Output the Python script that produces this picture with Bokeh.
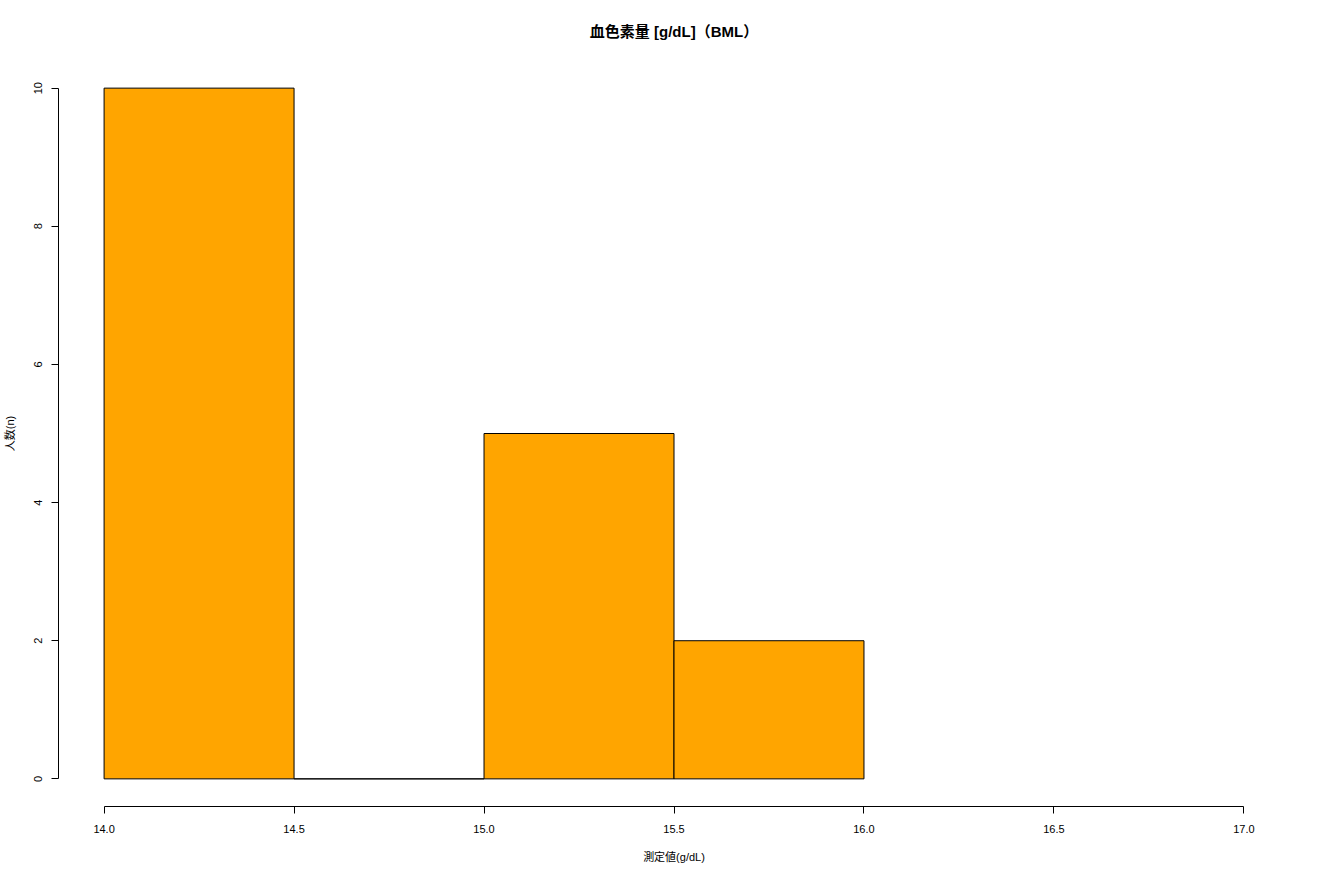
from bokeh.plotting import figure
from bokeh.models import Range1d, FixedTicker, PrintfTickFormatter, LinearAxis
from bokeh.embed import file_html
from bokeh.resources import INLINE

title_text = "血色素量 [g/dL]（BML）"
x_label = "測定値(g/dL)"
y_label = "人数(n)"
bin_left = [14.0, 14.5, 15.0, 15.5]
bin_right = [14.5, 15.0, 15.5, 16.0]
counts = [10, 0, 5, 2]
x_ticks = [14.0, 14.5, 15.0, 15.5, 16.0, 16.5, 17.0]
y_ticks = [0, 2, 4, 6, 8, 10]

FONT = "'Liberation Sans', 'Noto Sans CJK JP'"

p = figure(
    output_backend="svg", toolbar_location=None,
    frame_width=1231, frame_height=746,
    min_border_left=58, min_border_top=60, min_border_right=12, min_border_bottom=56,
    x_range=Range1d(13.88, 17.12), y_range=Range1d(-0.4, 10.4),
    x_axis_type=None, y_axis_type=None,
    title=title_text,
)
p.outline_line_color = None
p.background_fill_color = "white"
p.border_fill_color = "white"

p.title.align = "center"
p.title.text_font = FONT
p.title.text_font_size = "15px"
p.title.text_font_style = "bold"
p.title.text_color = "black"
p.title.standoff = 41

p.quad(left=bin_left, right=bin_right, bottom=0, top=counts,
       fill_color="#FFA500", line_color="black", line_width=1)

xa = LinearAxis(ticker=FixedTicker(ticks=x_ticks), formatter=PrintfTickFormatter(format="%.1f"),
                bounds=(x_ticks[0], x_ticks[-1]), axis_label=x_label)
ya = LinearAxis(ticker=FixedTicker(ticks=y_ticks), bounds=(y_ticks[0], y_ticks[-1]), axis_label=y_label)
for ax in (xa, ya):
    ax.axis_line_color = "black"
    ax.major_tick_line_color = "black"
    ax.minor_tick_line_color = None
    ax.major_tick_out = 7
    ax.major_tick_in = 0
    ax.major_label_text_font = FONT
    ax.major_label_text_font_size = "11px"
    ax.major_label_text_color = "black"
    ax.axis_label_text_font = FONT
    ax.axis_label_text_font_size = "11px"
    ax.axis_label_text_font_style = "normal"
    ax.axis_label_text_color = "black"
xa.major_label_standoff = 11
xa.axis_label_standoff = 15
ya.major_label_standoff = 9
ya.axis_label_standoff = 16
ya.major_label_orientation = "vertical"
p.add_layout(xa, "below")
p.add_layout(ya, "left")

open("out.html", "w").write(file_html(p, INLINE))
